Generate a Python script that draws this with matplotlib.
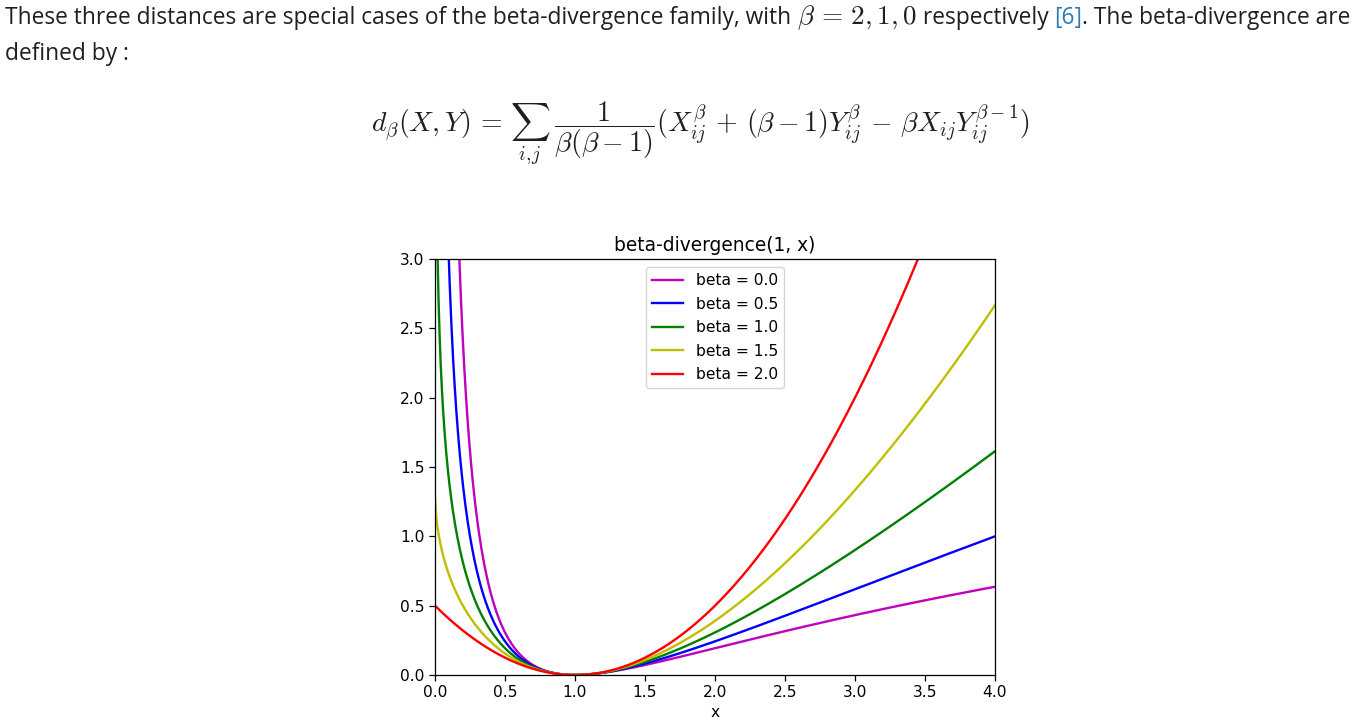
import numpy as np
import matplotlib
matplotlib.use("Agg")
import matplotlib.pyplot as plt

plt.rcParams["mathtext.fontset"] = "cm"

# chart data: beta values, colours, x range of the grid
betas = [0.0, 0.5, 1.0, 1.5, 2.0]
colors = ["m", "b", "g", "y", "r"]
x_start, x_stop, n_points = 0.001, 4.0, 1000


def beta_divergence(X, Y, beta):
    # d_beta(X, Y) as defined by the formula on the page
    if beta == 0:
        return X / Y - np.log(X / Y) - 1
    if beta == 1:
        return X * np.log(X / Y) - X + Y
    return (X ** beta + (beta - 1) * Y ** beta - beta * X * Y ** (beta - 1)) / (beta * (beta - 1))


fig = plt.figure(figsize=(13.53, 7.27), dpi=100)
renderer = fig.canvas.get_renderer()
W, H = fig.get_size_inches() * fig.dpi

text_color = "#1f1f1f"
link_color = "#2b7bb9"
body_size = 16.35
math_size = 19.5


def write_line(pieces, x0, y0):
    # put pieces of text one after the other on the same baseline
    x = x0
    for s, color, size in pieces:
        t = fig.text(x / W, 1 - y0 / H, s, color=color, fontsize=size,
                     family="Open Sans", va="baseline", ha="left")
        bb = t.get_window_extent(renderer)
        x = bb.x1


write_line([
    ("These three distances are special cases of the beta-divergence family, with ", text_color, body_size),
    (r"$\beta\,=\,2,1,0$", text_color, math_size),
    (" respectively ", text_color, body_size),
    ("[6]", link_color, body_size),
    (". The beta-divergence are", text_color, body_size),
], 5, 24)
write_line([("defined by :", text_color, body_size)], 5, 60)

formula = (r"$d_\beta(X,Y)\,=\,\sum_{i,\!j}\;\dfrac{1}{\beta(\beta-1)}"
           r"(X_{ij}^\beta\,+\,(\beta-1)Y_{ij}^\beta\,-\,\beta X_{ij}Y_{ij}^{\beta-1})$")
fig.text(700 / W, 1 - 133 / H, formula, fontsize=20, color=text_color,
         ha="center", va="center")

# the chart
ax = fig.add_axes([435 / W, 1 - 675 / H, 560 / W, 416 / H])
x = np.linspace(x_start, x_stop, n_points)
for beta, c in zip(betas, colors):
    y = beta_divergence(1.0, x, beta)
    ax.plot(x, y, color=c, lw=1.7, label="beta = %1.1f" % beta)

ax.set_xlim(0, 4)
ax.set_ylim(0, 3)
ax.set_xticks(np.arange(0, 4.01, 0.5))
ax.set_yticks(np.arange(0, 3.01, 0.5))
ax.tick_params(labelsize=11.2, length=4, width=0.9)
for sp in ax.spines.values():
    sp.set_linewidth(0.9)
ax.set_xlabel("x", fontsize=11.2, labelpad=3)
ax.set_title("beta-divergence(1, x)", fontsize=13.4, pad=6)
ax.legend(loc="upper center", fontsize=11.2, labelspacing=0.55)

fig.savefig("out.png", dpi=100)
